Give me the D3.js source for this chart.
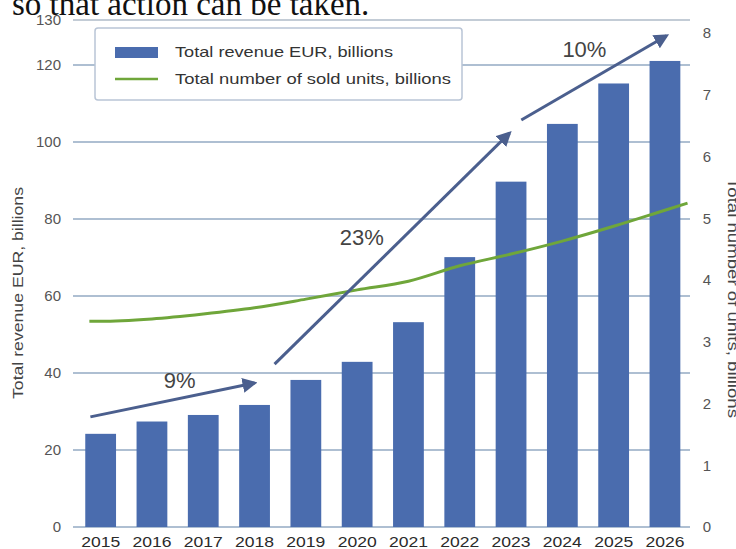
<!DOCTYPE html>
<html>
<head>
<meta charset="utf-8">
<script src="https://cdn.jsdelivr.net/npm/d3@7"></script>
<style>
  body { margin: 0; background: #fff; }
  svg { display: block; font-family: "Liberation Sans", Arial, sans-serif; }
</style>
</head>
<body>
<svg id="chart" width="736" height="549"></svg>
<script>
// data
const years = ["2015", "2016", "2017", "2018", "2019", "2020", "2021", "2022", "2023", "2024", "2025", "2026"];
const revenue = [24.2, 27.4, 29.1, 31.7, 38.2, 42.9, 53.2, 70.1, 89.7, 104.7, 115.2, 120.9];
const units = [3.33, 3.37, 3.45, 3.55, 3.69, 3.84, 3.98, 4.23, 4.42, 4.63, 4.87, 5.13];
const leftTicks = [0, 20, 40, 60, 80, 100, 120, 130];
const rightTicks = [0, 1, 2, 3, 4, 5, 6, 7, 8];
// growth arrows: [year index, revenue] start / end, label position
const growthLabels = ["9%", "23%", "10%"];
const arrowFrom = [[-0.2, 28.6], [3.39, 42.3], [8.2, 105.7]];
const arrowTo = [[3.0, 37.4], [7.97, 102.3], [11.03, 126.5]];
const labelAt = [[1.54, 38.2], [5.09, 75.3], [9.43, 123.5]];

const svg = d3.select("#chart");

// clipped caption line from the page above the figure
svg.append("text")
    .attr("x", 12)
    .attr("y", 15)
    .style("font-family", "'Liberation Serif', 'Times New Roman', serif")
    .style("font-size", "33px")
    .attr("fill", "#111")
    .text("so that action can be taken.");

const x = d3.scaleBand()
    .domain(years)
    .range([75, 690.6])
    .paddingInner(0.4)
    .paddingOuter(0.2);
const y = d3.scaleLinear().domain([0, 120, 130]).range([527, 65, 20]);
const y2 = d3.scaleLinear().domain([0, 8]).range([527, 33]);

function xAt(i) {
    return x(years[0]) + x.bandwidth() / 2 + i * x.step();
}

// grid
svg.append("g")
    .selectAll("line")
    .data(leftTicks)
    .enter()
    .append("line")
    .attr("x1", 73)
    .attr("x2", 690)
    .attr("y1", d => y(d))
    .attr("y2", d => y(d))
    .attr("stroke", d => d === 130 ? "#c3ccd6" : "#aebfd2")
    .attr("stroke-width", 2);

// left axis labels
svg.append("g")
    .selectAll("text")
    .data(leftTicks)
    .enter()
    .append("text")
    .attr("x", 61)
    .attr("y", d => y(d))
    .attr("dy", "0.35em")
    .attr("text-anchor", "end")
    .attr("fill", "#555")
    .style("font-size", "15px")
    .text(d => d);

// right axis labels
svg.append("g")
    .selectAll("text")
    .data(rightTicks)
    .enter()
    .append("text")
    .attr("x", 707)
    .attr("y", d => y2(d))
    .attr("dy", "0.35em")
    .attr("text-anchor", "middle")
    .attr("fill", "#555")
    .style("font-size", "15px")
    .text(d => d);

// axis titles
svg.append("text")
    .attr("transform", "translate(23,293) rotate(-90)")
    .attr("text-anchor", "middle")
    .attr("fill", "#444")
    .style("font-size", "14px")
    .attr("textLength", 212)
    .attr("lengthAdjust", "spacingAndGlyphs")
    .text("Total revenue EUR, billions");

svg.append("text")
    .attr("transform", "translate(728,298) rotate(90)")
    .attr("text-anchor", "middle")
    .attr("fill", "#444")
    .style("font-size", "14px")
    .attr("textLength", 240)
    .attr("lengthAdjust", "spacingAndGlyphs")
    .text("Total number of units, billions");

// bars
svg.append("g")
    .selectAll("rect")
    .data(revenue)
    .enter()
    .append("rect")
    .attr("x", (d, i) => x(years[i]))
    .attr("width", x.bandwidth())
    .attr("y", d => y(d))
    .attr("height", d => y(0) - y(d))
    .attr("fill", "#4a6cae");

// year labels
svg.append("g")
    .selectAll("text")
    .data(years)
    .enter()
    .append("text")
    .attr("x", d => x(d) + x.bandwidth() / 2)
    .attr("y", 547)
    .attr("text-anchor", "middle")
    .attr("fill", "#2a2a2a")
    .style("font-size", "15px")
    .attr("textLength", 39)
    .attr("lengthAdjust", "spacingAndGlyphs")
    .text(d => d);

// units line, drawn a little past the outer bars
const pts = units.map((d, i) => [xAt(i), y2(d)]);
const n = pts.length;
const first = [xAt(-0.22), y2(units[0])];
const last = [xAt(n - 1 + 0.44), pts[n - 1][1] + (pts[n - 1][1] - pts[n - 2][1]) * 0.44];
const line = d3.line().curve(d3.curveMonotoneX);
svg.append("path")
    .attr("d", line([first].concat(pts, [last])))
    .attr("fill", "none")
    .attr("stroke", "#6fa63a")
    .attr("stroke-width", 3);

// growth arrows
const defs = svg.append("defs");
defs.append("marker")
    .attr("id", "head")
    .attr("viewBox", "0 0 10 10")
    .attr("refX", 8)
    .attr("refY", 5)
    .attr("markerWidth", 5)
    .attr("markerHeight", 5)
    .attr("orient", "auto")
    .append("path")
    .attr("d", "M0,0 L10,5 L0,10 z")
    .attr("fill", "#4b5f8e");

svg.append("g")
    .selectAll("line")
    .data(arrowFrom)
    .enter()
    .append("line")
    .attr("x1", d => xAt(d[0]))
    .attr("y1", d => y(d[1]))
    .attr("x2", (d, i) => xAt(arrowTo[i][0]))
    .attr("y2", (d, i) => y(arrowTo[i][1]))
    .attr("stroke", "#4b5f8e")
    .attr("stroke-width", 3)
    .attr("marker-end", "url(#head)");

svg.append("g")
    .selectAll("text")
    .data(growthLabels)
    .enter()
    .append("text")
    .attr("x", (d, i) => xAt(labelAt[i][0]))
    .attr("y", (d, i) => y(labelAt[i][1]))
    .attr("dy", "0.35em")
    .attr("text-anchor", "middle")
    .attr("fill", "#444")
    .style("font-size", "22px")
    .text(d => d);

// legend
const legend = svg.append("g");
legend.append("rect")
    .attr("x", 95)
    .attr("y", 28)
    .attr("width", 367)
    .attr("height", 72)
    .attr("rx", 3)
    .attr("fill", "#fff")
    .attr("stroke", "#b9c5d6")
    .attr("stroke-width", 1.5);
legend.append("rect")
    .attr("x", 115)
    .attr("y", 47)
    .attr("width", 43)
    .attr("height", 11)
    .attr("fill", "#4a6cae");
legend.append("line")
    .attr("x1", 115)
    .attr("x2", 158)
    .attr("y1", 79)
    .attr("y2", 79)
    .attr("stroke", "#6fa63a")
    .attr("stroke-width", 2.5);
legend.append("text")
    .attr("x", 175)
    .attr("y", 52)
    .attr("dy", "0.35em")
    .attr("fill", "#333")
    .style("font-size", "14.5px")
    .attr("textLength", 218)
    .attr("lengthAdjust", "spacingAndGlyphs")
    .text("Total revenue EUR, billions");
legend.append("text")
    .attr("x", 175)
    .attr("y", 79)
    .attr("dy", "0.35em")
    .attr("fill", "#333")
    .style("font-size", "14.5px")
    .attr("textLength", 276)
    .attr("lengthAdjust", "spacingAndGlyphs")
    .text("Total number of sold units, billions");
</script>
</body>
</html>
